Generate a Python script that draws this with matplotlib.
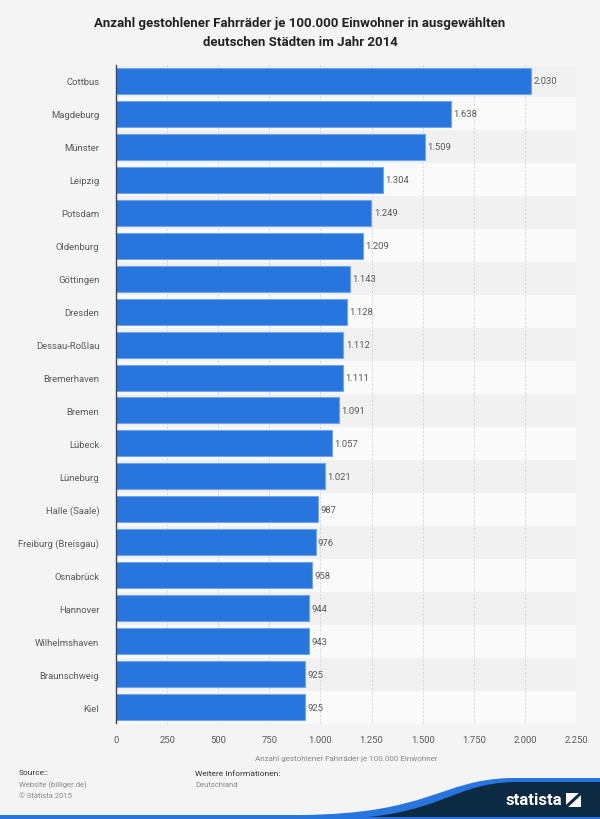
import matplotlib.pyplot as plt
import numpy as np
from matplotlib.path import Path
from matplotlib.patches import PathPatch, Rectangle

plt.rcParams['font.family'] = ['Roboto', 'DejaVu Sans']

cities = ['Cottbus', 'Magdeburg', 'Münster', 'Leipzig', 'Potsdam', 'Oldenburg',
          'Göttingen', 'Dresden', 'Dessau-Roßlau', 'Bremerhaven', 'Bremen', 'Lübeck',
          'Lüneburg', 'Halle (Saale)', 'Freiburg (Breisgau)', 'Osnabrück', 'Hannover',
          'Wilhelmshaven', 'Braunschweig', 'Kiel']
values = [2030, 1638, 1509, 1304, 1249, 1209, 1143, 1128, 1112, 1111, 1091, 1057,
          1021, 987, 976, 958, 944, 943, 925, 925]
xticks = [0, 250, 500, 750, 1000, 1250, 1500, 1750, 2000, 2250]


def de_fmt(v):
    return f"{v:,}".replace(',', '.')


bg = '#f4f4f4'
fig = plt.figure(figsize=(6, 8.2), dpi=100, facecolor=bg)
ax = fig.add_axes([116 / 600, 1 - 724.5 / 820, 460 / 600, 659 / 820])
ax.set_facecolor(bg)

y = np.arange(len(cities))
for i in y:
    ax.axhspan(i - 0.5, i + 0.5, color='#f1f1f1' if i % 2 == 0 else '#fafafa', zorder=0, lw=0)

ax.barh(y, values, height=0.79, color='#2876dd', edgecolor='#6fa5ea', linewidth=0.8, zorder=3)
for i, v in zip(y, values):
    ax.text(v + 12, i, de_fmt(v), va='center', ha='left', fontsize=6.8, color='#595959', zorder=4)

ax.set_ylim(len(cities) - 0.5, -0.5)
ax.set_xlim(0, 2250)
ax.set_yticks(y)
ax.set_yticklabels(cities, fontsize=6.8, color='#595959')
ax.set_xticks(xticks)
ax.set_xticklabels([de_fmt(t) for t in xticks], fontsize=6.8, color='#595959')
ax.tick_params(length=0, pad=8)
ax.tick_params(axis='y', pad=12)
ax.grid(axis='x', color='#d4d4d4', linestyle=(0, (2, 2)), linewidth=0.7, zorder=1)
for s in ['top', 'right', 'bottom']:
    ax.spines[s].set_visible(False)
ax.spines['left'].set_color('#444444')
ax.spines['left'].set_linewidth(1.0)
ax.spines['left'].set_zorder(5)
ax.set_xlabel('Anzahl gestohlener Fahrräder je 100.000 Einwohner', fontsize=5.8,
              color='#888888', labelpad=8)

fig.text(0.5, 1 - 33 / 820, 'Anzahl gestohlener Fahrräder je 100.000 Einwohner in ausgewählten\n'
         'deutschen Städten im Jahr 2014', ha='center', va='center', fontsize=9.5,
         fontweight='bold', color='#222222', linespacing=1.6)

# footer
fig.text(19 / 600, 1 - 773 / 820, 'Source::', fontsize=6, color='#333333', va='center')
fig.text(19 / 600, 1 - 785 / 820, 'Website (billiger.de)', fontsize=5.5, color='#888888', va='center')
fig.text(19 / 600, 1 - 796 / 820, '© Statista 2015', fontsize=5.5, color='#888888', va='center')
fig.text(195 / 600, 1 - 774 / 820, 'Weitere Informationen:', fontsize=6, color='#333333', va='center')
fig.text(195 / 600, 1 - 785 / 820, 'Deutschland', fontsize=5.5, color='#888888', va='center')

# statista logo strip
lax = fig.add_axes([0, 0, 1, 1], zorder=-1)
lax.set_xlim(0, 600)
lax.set_ylim(820, 0)
lax.axis('off')
blue = Path([(0, 820), (0, 816), (300, 816), (430, 815), (440, 781), (510, 779),
             (600, 779), (600, 820), (0, 820)],
            [Path.MOVETO, Path.LINETO, Path.LINETO, Path.CURVE4, Path.CURVE4, Path.CURVE4,
             Path.LINETO, Path.LINETO, Path.CLOSEPOLY])
lax.add_patch(PathPatch(blue, color='#2876dd', lw=0))
navy = Path([(0, 820), (330, 820), (440, 819), (450, 784), (515, 783),
             (600, 783), (600, 820), (0, 820)],
            [Path.MOVETO, Path.LINETO, Path.CURVE4, Path.CURVE4, Path.CURVE4,
             Path.LINETO, Path.LINETO, Path.CLOSEPOLY])
lax.add_patch(PathPatch(navy, color='#0d2a43', lw=0))
lax.add_patch(Rectangle((0, 817.5), 600, 2.5, color='#2876dd', lw=0))
lax.text(534, 801, 'statista', color='white', fontsize=12, fontweight='bold', ha='center', va='center')
lax.add_patch(Rectangle((566, 794), 15, 14, color='white', lw=0))
lax.plot([567, 580], [807, 795], color='#0d2a43', lw=2.2)

fig.savefig('out.png', dpi=100, facecolor=bg)
